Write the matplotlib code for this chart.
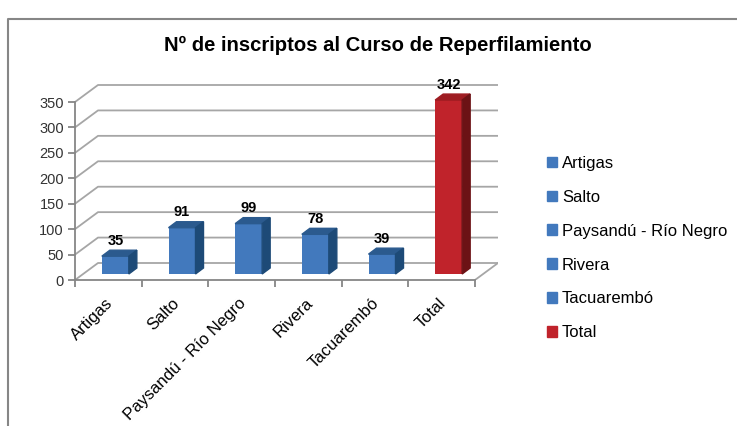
import matplotlib.pyplot as plt
from matplotlib.patches import Polygon, Patch
from matplotlib.lines import Line2D

# data
categories = ["Artigas", "Salto", "Paysandú - Río Negro", "Rivera", "Tacuarembó", "Total"]
inscriptos = [35, 91, 99, 78, 39, 342]
yticks = [0, 50, 100, 150, 200, 250, 300, 350]

plt.rcParams['font.family'] = ['Liberation Sans', 'DejaVu Sans']

BLUE = ("#4279BD", "#2B5A8E", "#1D4A77")   # front, top, side
RED = ("#C0232B", "#9E1C22", "#6C1215")
face_colors = [BLUE] * 5 + [RED]

W_PX, H_PX = 737, 426
fig = plt.figure(figsize=(W_PX / 100, H_PX / 100), dpi=100)

# pixel scale of the fake 3d box
px_x = 400 / 6          # px per category
px_y = 178 / 350        # px per unit
x0_px, y0_px = 75, 280  # front-left-bottom corner
back = (23 / px_x, 17 / px_y)     # back wall offset
front = (7 / px_x, 6 / px_y)      # bar front face offset
depth = (8 / px_x, 6 / px_y)      # bar depth
bar_w = 27 / px_x

ymax = 400
ax = fig.add_axes([x0_px / W_PX, (H_PX - y0_px) / H_PX,
                   423 / W_PX, ymax * px_y / H_PX])
ax.set_xlim(-0.5, -0.5 + 423 / px_x)
ax.set_ylim(0, ymax)

grid_c = "#A6A6A6"
axis_c = "#868686"

# back wall + left wall grid
x_left, x_right = -0.5, len(categories) - 0.5
for v in yticks:
    ax.plot([x_left, x_left + back[0], x_right + back[0]],
            [v, v + back[1], v + back[1]], color=grid_c, lw=1.3, zorder=1)
# floor right edge
ax.plot([x_right, x_right + back[0]], [0, back[1]], color=grid_c, lw=1.3, zorder=1)

# bars
for i, (v, cols) in enumerate(zip(inscriptos, face_colors)):
    xl = i - bar_w / 2 + front[0]
    xr = xl + bar_w
    yb = front[1]
    yt = yb + v
    ax.bar(xl, v, width=bar_w, bottom=yb, align='edge', color=cols[0], zorder=3)
    ax.add_patch(Polygon([(xl, yt), (xr, yt), (xr + depth[0], yt + depth[1]),
                          (xl + depth[0], yt + depth[1])], closed=True,
                         color=cols[1], zorder=3))
    ax.add_patch(Polygon([(xr, yb), (xr + depth[0], yb + depth[1]),
                          (xr + depth[0], yt + depth[1]), (xr, yt)], closed=True,
                         color=cols[2], zorder=3))
    ax.annotate(str(v), (i + front[0], yt), xytext=(0, 11), textcoords='offset points',
                ha='center', va='center', fontsize=10.5, fontweight='bold',
                zorder=4, annotation_clip=False)

# axes styling
for s in ['top', 'right']:
    ax.spines[s].set_visible(False)
ax.spines['left'].set_bounds(0, 350)
ax.spines['bottom'].set_bounds(x_left, x_right)
for s in ['left', 'bottom']:
    ax.spines[s].set_color(axis_c)
    ax.spines[s].set_linewidth(1.3)
ax.set_yticks(yticks)
ax.set_xticks([i - 0.5 for i in range(len(categories) + 1)])
ax.set_xticklabels([])
ax.tick_params(axis='both', colors=axis_c, length=5, width=1.3, labelsize=10.5,
               labelcolor="#333333", pad=3)
ax.patch.set_visible(False)

for i, name in enumerate(categories):
    ax.annotate(name, (i - 0.05, 0), xytext=(0, -11), textcoords='offset points',
                rotation=45, ha='right', va='top', rotation_mode='anchor',
                fontsize=12, annotation_clip=False)

# title
fig.text(378 / W_PX, 1 - 45 / H_PX, "Nº de inscriptos al Curso de Reperfilamiento",
         ha='center', va='center', fontsize=14.6, fontweight='bold')

# legend
handles = [Patch(color=c[0]) for c in face_colors]
fig.legend(handles, categories, loc='upper left',
           bbox_to_anchor=(547 / W_PX, 1 - 156 / H_PX), frameon=False,
           fontsize=12, handlelength=0.6, handleheight=0.6, handletextpad=0.3,
           labelspacing=1.13, borderaxespad=0, borderpad=0)

# outer frame
fig.add_artist(Line2D([8 / W_PX, 8 / W_PX, 1], [0, 1 - 19 / H_PX, 1 - 19 / H_PX],
                      color=axis_c, lw=1.5))

fig.savefig("out.png", dpi=100)
